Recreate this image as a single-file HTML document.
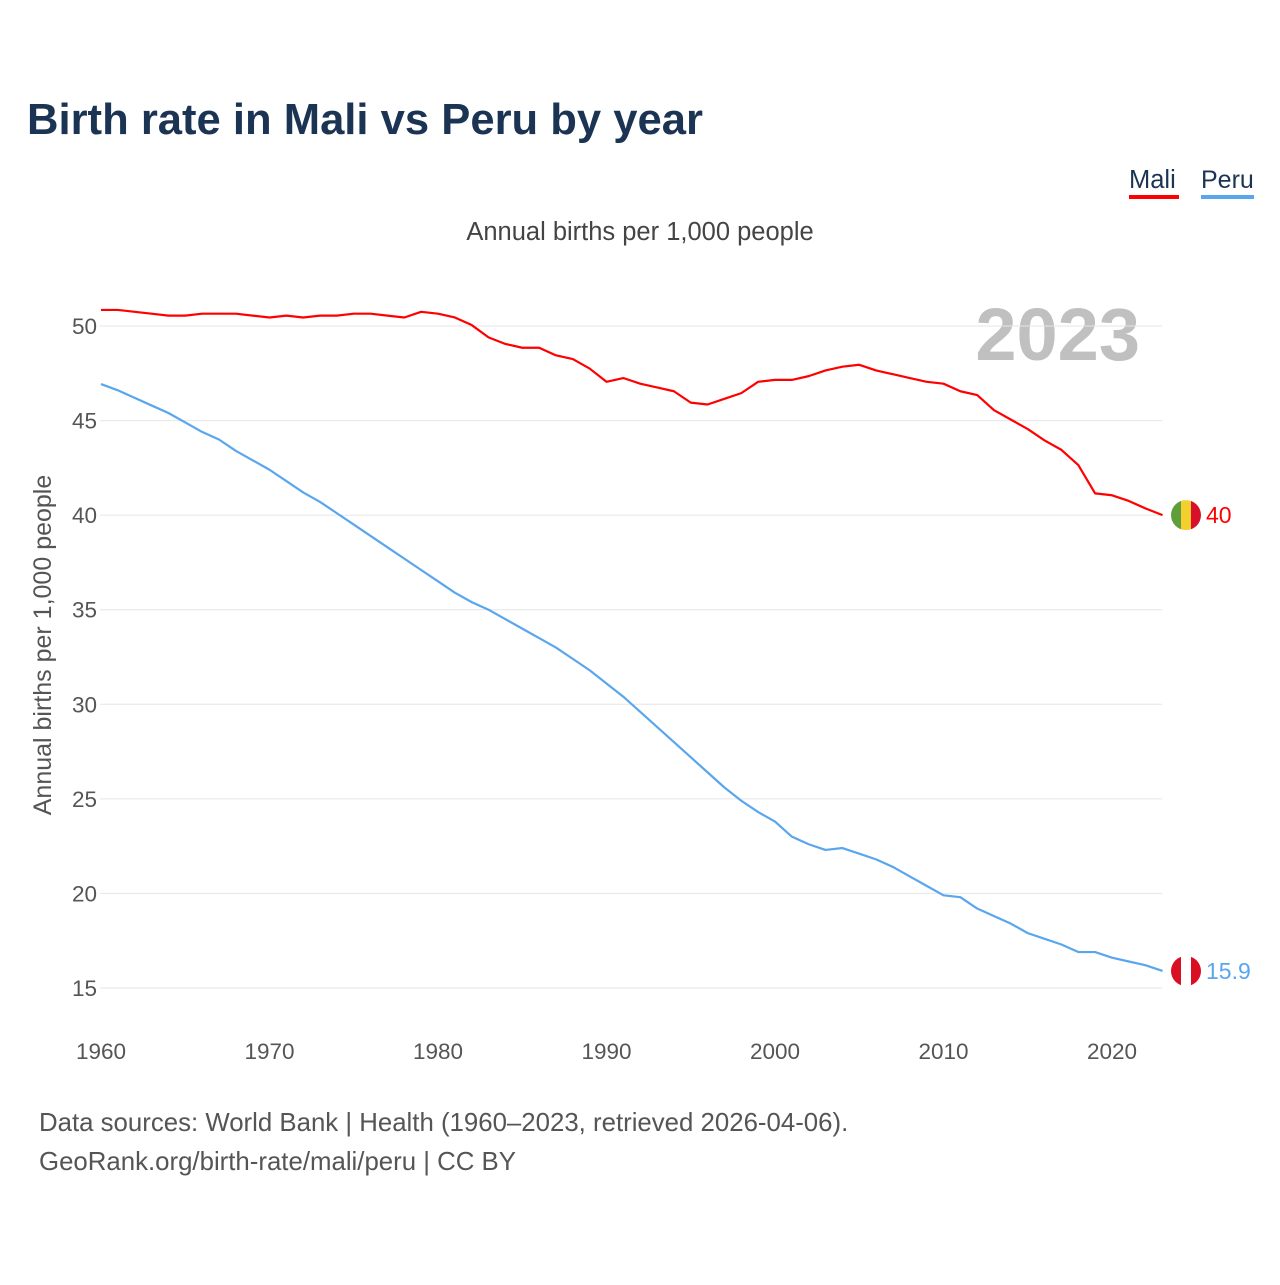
<!DOCTYPE html>
<html><head><meta charset="utf-8"><style>
body{margin:0;background:#fff;width:1280px;height:1280px;overflow:hidden;font-family:"Liberation Sans",sans-serif}
</style></head><body>
<svg width="1280" height="1280" xmlns="http://www.w3.org/2000/svg" font-family="Liberation Sans, sans-serif">
<text x="27" y="134" font-size="43.6" font-weight="bold" fill="#1c3454">Birth rate in Mali vs Peru by year</text>
<g><text x="1129" y="188" font-size="25.5" fill="#1c3454">Mali</text><rect x="1129" y="195" width="50" height="4" fill="#ff0000"/></g>
<g><text x="1201" y="188" font-size="25" fill="#1c3454">Peru</text><rect x="1201" y="195" width="53" height="4" fill="#5aa6ee"/></g>
<text x="640" y="240" font-size="25.5" fill="#444" text-anchor="middle">Annual births per 1,000 people</text>
<text x="1140" y="360" font-size="74" font-weight="bold" fill="#c0c0c0" text-anchor="end">2023</text>
<g id="grid"></g><g id="lines"></g>
<text transform="translate(51,645) rotate(-90)" font-size="25" fill="#555" text-anchor="middle">Annual births per 1,000 people</text>
<text x="39" y="1131" font-size="25.8" fill="#555">Data sources: World Bank | Health (1960–2023, retrieved 2026-04-06).</text>
<text x="39" y="1170" font-size="25.8" fill="#555">GeoRank.org/birth-rate/mali/peru | CC BY</text>
</svg>
<script>
const years=[];for(let y=1960;y<=2023;y++)years.push(y);
const mali=[50.85,50.85,50.75,50.65,50.55,50.55,50.65,50.65,50.65,50.55,50.45,50.55,50.45,50.55,50.55,50.65,50.65,50.55,50.45,50.75,50.65,50.45,50.05,49.4,49.05,48.85,48.85,48.45,48.25,47.75,47.05,47.25,46.95,46.75,46.55,45.95,45.85,46.15,46.45,47.05,47.15,47.15,47.35,47.65,47.85,47.95,47.65,47.45,47.25,47.05,46.95,46.55,46.35,45.55,45.05,44.55,43.95,43.45,42.65,41.15,41.05,40.75,40.35,40.0];
const peru=[46.93,46.6,46.2,45.8,45.4,44.9,44.4,44.0,43.4,42.9,42.4,41.8,41.2,40.7,40.1,39.5,38.9,38.3,37.7,37.1,36.5,35.9,35.4,35.0,34.5,34.0,33.5,33.0,32.4,31.8,31.1,30.4,29.6,28.8,28.0,27.2,26.4,25.6,24.9,24.3,23.8,23.0,22.6,22.3,22.4,22.1,21.8,21.4,20.9,20.4,19.9,19.8,19.2,18.8,18.4,17.9,17.6,17.3,16.9,16.9,16.6,16.4,16.2,15.9];
const yTicks=[15,20,25,30,35,40,45,50];
const xTicks=[1960,1970,1980,1990,2000,2010,2020];
const X=y=>101+(y-1960)*16.85, Y=v=>326+(50-v)*18.914;
const NS="http://www.w3.org/2000/svg";
function mk(t,a,p){const e=document.createElementNS(NS,t);for(const k in a)e.setAttribute(k,a[k]);p.appendChild(e);return e;}
const g=document.getElementById('grid');
yTicks.forEach(v=>{
 const l=mk('line',{x1:100,x2:1162,y1:Y(v),y2:Y(v),stroke:'#e6e6e6','stroke-width':1},g);
 
 
 const t=mk('text',{x:97,y:Y(v)+8,'font-size':22.5,fill:'#555','text-anchor':'end'},g);t.textContent=v;
 
 
});
xTicks.forEach(v=>{
 const t=mk('text',{x:X(v),y:1059,'font-size':22.5,fill:'#555','text-anchor':'middle'},g);t.textContent=v;
 
 
});
const L=document.getElementById('lines');
function line(d,c,name){
 const p=mk('polyline',{points:d.map((v,i)=>X(years[i])+','+Y(v)).join(' '),fill:'none',stroke:c,'stroke-width':2.2,'stroke-linejoin':'round'},L);
 
 
}
line(mali,'#ff0000','mali');line(peru,'#5aa6ee','peru');
function flag(v,cols,name,label,c){
 const cy=Y(v),cx=1186;
 const gg=mk('g',{},L);
 
 
 const cp=mk('clipPath',{id:'c'+name},gg);
 mk('circle',{cx:cx,cy:cy,r:15},cp);
 cols.forEach((col,i)=>mk('rect',{x:cx-15+i*10,y:cy-15,width:10,height:30,fill:col,'clip-path':'url(#c'+name+')'},gg));
 const t=mk('text',{x:1206,y:cy+8,'font-size':23,fill:c},L);t.textContent=label;
 
 
}
flag(mali[mali.length-1],['#5f9e3a','#f4cf30','#d8102a'],'mali','40','#ff0000');
flag(peru[peru.length-1],['#d91023','#ffffff','#d91023'],'peru','15.9','#5aa6ee');
</script>
</body></html>
